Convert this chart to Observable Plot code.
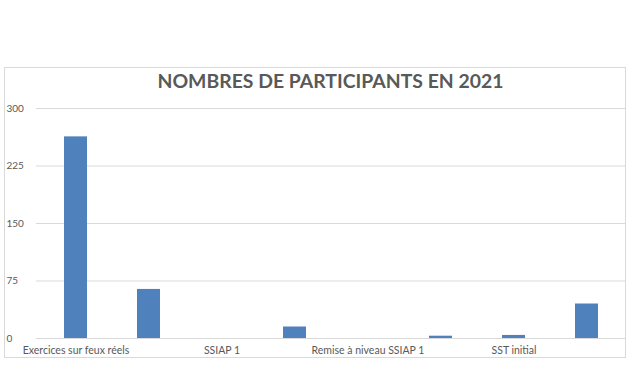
<!DOCTYPE html>
<html><head><meta charset="utf-8">
<script src="https://cdn.jsdelivr.net/npm/d3@7"></script>
<script src="https://cdn.jsdelivr.net/npm/@observablehq/plot@0.6"></script>
<style>
html,body{margin:0;padding:0;background:#fff;width:631px;height:365px;overflow:hidden;}
#wrap{position:relative;width:631px;height:365px;}
#box{position:absolute;left:4px;top:67px;width:620px;height:289px;border:1px solid #d9d9d9;}
#title{position:absolute;left:0;width:661px;top:69px;text-align:center;font:bold 19.4px Lato, sans-serif;color:#595959;}
#chart{position:absolute;left:0;top:0;}
</style></head>
<body><div id="wrap"><div id="box"></div><div id="chart"></div><div id="title">NOMBRES DE PARTICIPANTS EN 2021</div></div>
<script>
const categories = ["Exercices sur feux réels","Manipulation extincteurs","SSIAP 1","SSIAP 2","Remise à niveau SSIAP 1","Remise à niveau SSIAP 2","SST initial","MAC SST"];
const values = [263, 64, 0, 15, 0, 3, 4, 45];
const yTicks = [0, 75, 150, 225, 300];
const shownLabels = categories.filter((d,i)=>i%2===0);
const data = categories.map((c,i)=>({cat:c, v:values[i]}));
const grey = "#595959";
const chart = Plot.plot({
  width: 631, height: 365,
  marginTop: 108, marginBottom: 27, marginLeft: 37, marginRight: 6,
  style: {fontFamily: "Lato, sans-serif", fontSize: "10px", color: grey, background: "transparent"},
  x: {domain: categories, paddingInner: 0.69, paddingOuter: 0.345, axis: null},
  y: {domain: [0, 300], axis: null},
  marks: [
    Plot.ruleY(yTicks, {stroke: "#d9d9d9", strokeWidth: 1, insetLeft: -1}),
    Plot.barY(data, {x: "cat", y: "v", fill: "#4F81BD"}),
    Plot.text(yTicks, {y: d=>d, text: d=>String(d), frameAnchor: "left", dx: -31, textAnchor: "start", fill: grey, fontSize: 10}),
    Plot.text(shownLabels, {x: d=>d, text: d=>d, frameAnchor: "bottom", dy: 12, lineAnchor: "middle", fill: grey, fontSize: 10.5})
  ]
});
document.getElementById("chart").appendChild(chart);
</script></body></html>
